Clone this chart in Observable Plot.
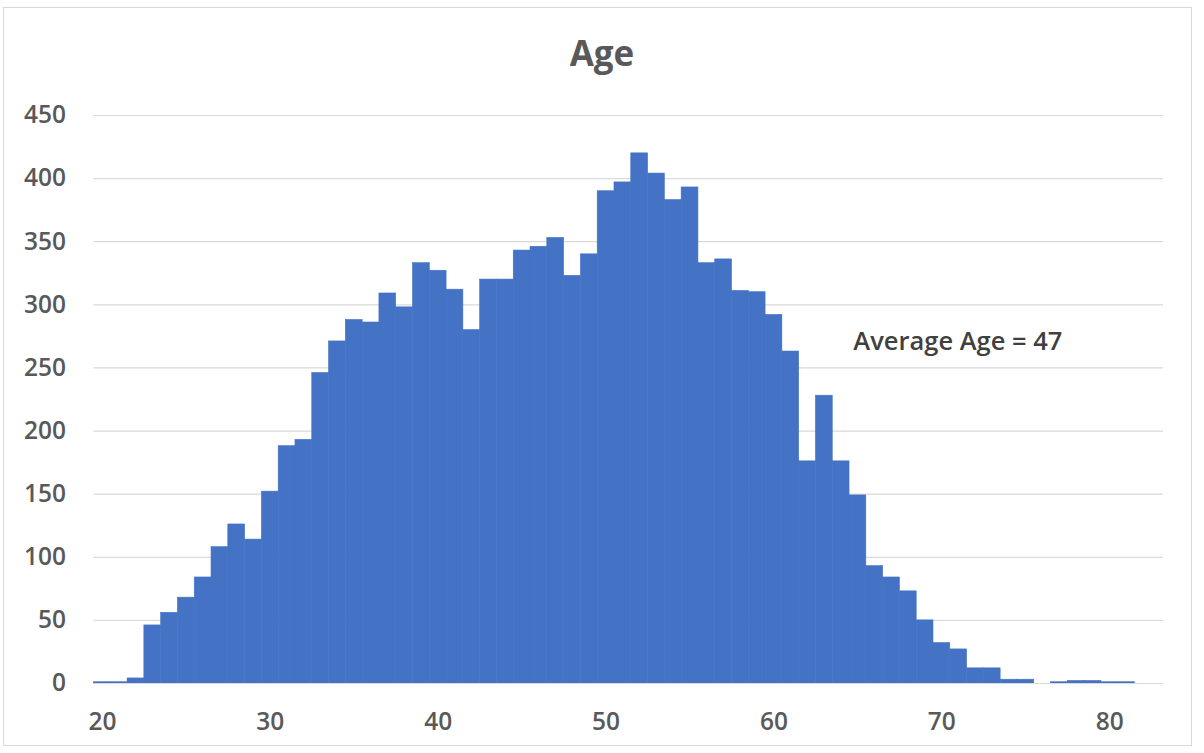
<!DOCTYPE html>
<html>
<head>
<meta charset="utf-8">
<script src="https://cdn.jsdelivr.net/npm/d3@7"></script>
<script src="https://cdn.jsdelivr.net/npm/@observablehq/plot@0.6"></script>
<style>
  html, body { margin: 0; padding: 0; background: #fff; }
  #wrap { position: relative; width: 1204px; height: 753px; overflow: hidden; }
  #frame { position: absolute; left: 3px; top: 7px; width: 1189px; height: 739px; border: 1px solid #d9d9d9; box-sizing: border-box; pointer-events: none; }
  #title { position: absolute; left: 0; width: 1204px; top: 33px; text-align: center; font-family: "Open Sans", sans-serif; font-weight: 700; font-size: 35px; color: #595959; line-height: 40px; }
  #chart { position: absolute; left: 0; top: 0; }
</style>
</head>
<body>
<div id="wrap">
  <div id="chart"></div>
  <div id="frame"></div>
  <div id="title">Age</div>
</div>
<script>
const ages = [20,21,22,23,24,25,26,27,28,29,30,31,32,33,34,35,36,37,38,39,40,41,42,43,44,45,46,47,48,49,50,51,52,53,54,55,56,57,58,59,60,61,62,63,64,65,66,67,68,69,70,71,72,73,74,75,76,77,78,79,80,81,82];
const counts = [1,1,4,46,56,68,84,108,126,114,152,188,193,246,271,288,286,309,298,333,327,312,280,320,320,343,346,353,323,340,390,397,420,404,383,393,333,336,311,310,292,263,176,228,176,149,93,84,73,50,32,27,12,12,3,3,0,1,2,2,1,1,0];
const yTicks = [0,50,100,150,200,250,300,350,400,450];
const xTicks = [20,30,40,50,60,70,80];
const noteText = ["Average Age = 47"];
const noteAge = [70.95];
const noteCount = [271];

const data = ages.map((a, i) => ({age: a, count: counts[i]}));
const notes = noteText.map((t, i) => ({text: t, age: noteAge[i], count: noteCount[i]}));

const barColor = "#4472C4";

const chart = Plot.plot({
  width: 1204,
  height: 753,
  marginLeft: 93.5,
  marginRight: 41,
  marginTop: 115,
  marginBottom: 70,
  style: {fontFamily: "'Open Sans', sans-serif", fontSize: "24.5px", fontWeight: 600, color: "#595959", background: "transparent"},
  x: {domain: [19.5, 83.2], ticks: xTicks, tickFormat: d => String(d)},
  y: {domain: [0, 450], ticks: yTicks},
  marks: [
    Plot.gridY(yTicks, {stroke: "#d9d9d9", strokeOpacity: 1, strokeWidth: 1.2}),
    Plot.rectY(data, {x1: d => d.age - 0.5, x2: d => d.age + 0.5, y: "count", fill: barColor, stroke: barColor, strokeWidth: 0.6, inset: 0}),
    Plot.ruleY([0], {stroke: "#d9d9d9", strokeWidth: 1.2}),
    Plot.axisY({ticks: yTicks, tickSize: 0, tickPadding: 28, fill: "#595959", label: null}),
    Plot.axisX({ticks: xTicks, tickSize: 0, tickPadding: 29, fill: "#595959", label: null}),
    Plot.text(notes, {x: "age", y: "count", text: "text", fill: "#404040", fontSize: 25.5, fontWeight: 600})
  ]
});
document.getElementById("chart").appendChild(chart);
</script>
</body>
</html>
